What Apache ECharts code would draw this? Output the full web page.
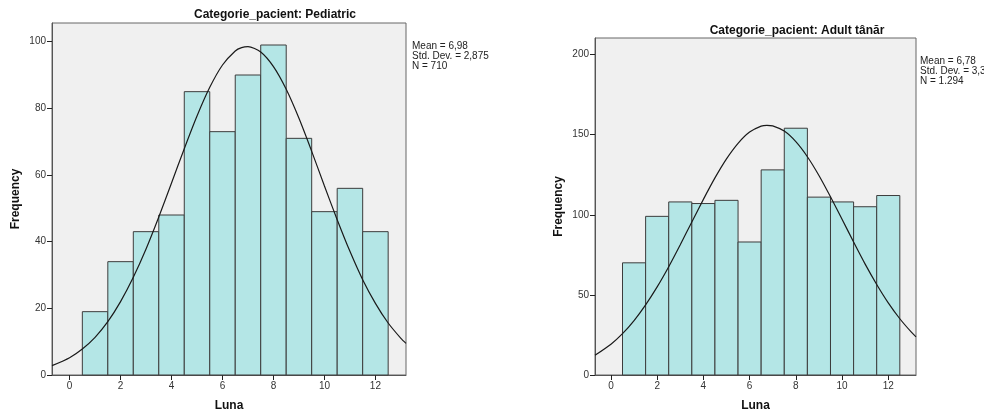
<!DOCTYPE html>
<html>
<head>
<meta charset="utf-8">
<script src="https://cdn.jsdelivr.net/npm/echarts@6/dist/echarts.min.js"></script>
<style>
  html, body { margin: 0; padding: 0; background: #fff; }
  #chart { width: 984px; height: 417px; }
</style>
</head>
<body>
<div id="chart"></div>
<script>
// luni (bins centred on 1..12)
const months = [1, 2, 3, 4, 5, 6, 7, 8, 9, 10, 11, 12]
const pediatricFreq = [19, 34, 43, 48, 85, 73, 90, 99, 71, 49, 56, 43]
const adultFreq = [70, 99, 108, 107, 109, 83, 128, 154, 111, 108, 105, 112]

// normal curve, points
const curveX = [-0.69, 0, 0.5, 1, 1.5, 2, 2.5, 3, 3.5, 4, 4.5, 5, 5.5, 6, 6.5, 6.75, 7, 7.5, 8, 8.5, 9, 9.5, 10, 10.5, 11, 11.5, 12, 12.5, 13, 13.2]
const pediatricCurve = [2.8, 5.2, 7.8, 11.3, 16.0, 22.0, 29.3, 37.8, 47.4, 57.6, 67.9, 77.7, 86.3, 93.0, 97.2, 98.2, 98.5, 96.9, 92.5, 85.7, 77.0, 67.1, 56.7, 46.6, 37.1, 28.6, 21.5, 15.6, 11.0, 9.5]
const adultCurve = [12.3, 19.2, 25.8, 34.0, 43.8, 55.0, 67.6, 81.3, 95.5, 109.6, 123.0, 134.9, 144.6, 151.6, 155.3, 155.8, 155.5, 152.2, 145.6, 136.2, 124.5, 111.2, 97.2, 83.0, 69.2, 56.5, 45.0, 35.1, 26.7, 23.8]

const xTicks = [0, 2, 4, 6, 8, 10, 12]
const pediatricYTicks = [0, 20, 40, 60, 80, 100]
const adultYTicks = [0, 50, 100, 150, 200]

const pediatricStats = ['Mean = 6,98', 'Std. Dev. = 2,875', 'N = 710']
const adultStats = ['Mean = 6,78', 'Std. Dev. = 3,313', 'N = 1.294']

const FONT = 'Liberation Sans, Arial, sans-serif'

const chart = echarts.init(document.getElementById('chart'), null, {renderer: 'canvas'})

const barItem = (params, api) => {
  const x = api.value(0)
  const y = api.value(1)
  const p1 = api.coord([x - 0.5, y])
  const p2 = api.coord([x + 0.5, 0])
  return {
    type: 'rect',
    shape: {x: p1[0], y: p1[1], width: p2[0] - p1[0], height: p2[1] - p1[1]},
    style: {fill: '#B4E6E6', stroke: '#3c3c3c', lineWidth: 1}
  }
}

const makeX = (gridIndex) => ({
  type: 'value', gridIndex,
  min: -0.69, max: 13.2,
  name: 'Luna', nameLocation: 'middle', nameGap: 25,
  nameTextStyle: {fontFamily: FONT, fontWeight: 'bold', fontSize: 12, color: '#111'},
  splitLine: {show: false},
  axisLine: {show: true, onZero: false, lineStyle: {color: '#555'}},
  axisTick: {show: true, length: 5, customValues: xTicks, lineStyle: {color: '#222'}},
  axisLabel: {customValues: xTicks, fontFamily: FONT, fontSize: 10, color: '#333', margin: 6}
})

const makeY = (gridIndex, max, ticks) => ({
  type: 'value', gridIndex,
  min: 0, max,
  name: 'Frequency', nameLocation: 'middle', nameGap: 30, nameRotate: 90,
  nameTextStyle: {fontFamily: FONT, fontWeight: 'bold', fontSize: 12, color: '#111'},
  splitLine: {show: false},
  axisLine: {show: true, onZero: false, lineStyle: {color: '#555'}},
  axisTick: {show: true, length: 5, customValues: ticks, lineStyle: {color: '#222'}},
  axisLabel: {customValues: ticks, fontFamily: FONT, fontSize: 10, color: '#333', margin: 6}
})

const curveLine = (idx, ys) => ({
  type: 'line', xAxisIndex: idx, yAxisIndex: idx,
  data: curveX.map((x, i) => [x, ys[i]]),
  smooth: 0.25, showSymbol: false, clip: true, z: 5,
  lineStyle: {color: '#1a1a1a', width: 1.2}
})

chart.setOption({
  animation: false,
  title: [
    {text: 'Categorie_pacient: Pediatric', left: 270, top: 4, textAlign: 'center',
      textStyle: {fontFamily: FONT, fontWeight: 'bold', fontSize: 12, color: '#111'}},
    {text: 'Categorie_pacient: Adult tânăr', left: 792, top: 20, textAlign: 'center',
      textStyle: {fontFamily: FONT, fontWeight: 'bold', fontSize: 12, color: '#111'}}
  ],
  graphic: [
    {type: 'text', left: 412, top: 41,
      style: {text: pediatricStats.join('\n'), font: '10px ' + FONT, fill: '#222', lineHeight: 10}},
    {type: 'text', left: 920, top: 56,
      style: {text: adultStats.join('\n'), font: '10px ' + FONT, fill: '#222', lineHeight: 10}}
  ],
  grid: [
    {left: 52, width: 354, top: 23, height: 354, show: true, backgroundColor: '#F0F0F0', borderColor: '#666', borderWidth: 1},
    {left: 595, width: 321, top: 38, height: 341, show: true, backgroundColor: '#F0F0F0', borderColor: '#666', borderWidth: 1}
  ],
  xAxis: [makeX(0), makeX(1)],
  yAxis: [makeY(0, 105.6, pediatricYTicks), makeY(1, 210.3, adultYTicks)],
  series: [
    {type: 'custom', xAxisIndex: 0, yAxisIndex: 0, renderItem: barItem,
      data: months.map((m, i) => [m, pediatricFreq[i]])},
    curveLine(0, pediatricCurve),
    {type: 'custom', xAxisIndex: 1, yAxisIndex: 1, renderItem: barItem,
      data: months.map((m, i) => [m, adultFreq[i]])},
    curveLine(1, adultCurve)
  ]
})
</script>
</body>
</html>
